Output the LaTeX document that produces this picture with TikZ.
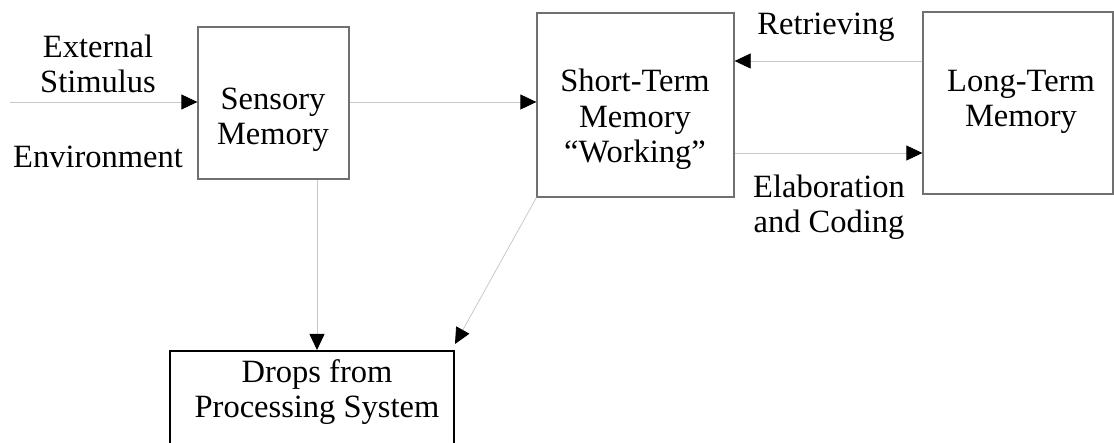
\documentclass[tikz,border=0pt]{standalone}
\usepackage{fontspec}
\setmainfont{Liberation Serif}
\usetikzlibrary{arrows.meta}

\definecolor{boxgray}{RGB}{112,112,112}
\definecolor{linegray}{RGB}{200,200,200}

\begin{document}
\begin{tikzpicture}[x=1pt, y=-1pt]
        \useasboundingbox (0,0) rectangle (1114,443);
        % the four stores
        \begin{scope}[every node/.style={draw=boxgray, line width=1.3pt, inner sep=0}]
            \node[minimum width=151pt, minimum height=152pt] (Sensory) at (273.5,103) {};
            \node[minimum width=197pt, minimum height=184pt] (ShortTerm) at (635.5,105) {};
            \node[minimum width=190pt, minimum height=182pt] (LongTerm) at (1018,103) {};
            \node[draw=black, line width=2pt, minimum width=284pt, minimum height=120pt] (Drops) at (312,411) {};
        \end{scope}
        % texts, placed on the baseline of their last line
        \begin{scope}[every node/.style={inner sep=0, align=center, anchor=base, font=\fontsize{32.5}{35.5}\selectfont}]
            \node (SensoryTxt) at (273,145) {Sensory\\Memory};
            \node (ShortTermTxt) at (635,163) {Short-Term\\Memory\\``Working''};
            \node (LongTermTxt) at (1021,127) {Long-Term\\Memory};
            \node (DropsTxt) at (317,418) {Drops from\\Processing System};
            \node (Stimulus) at (98,93) {External\\Stimulus};
            \node (Environment) at (98,168) {Environment};
            \node (Retrieving) at (826,35) {Retrieving};
            \node (Elaboration) at (829,233) {Elaboration\\and Coding};
        \end{scope}
        % connectors
        \coordinate (Input) at (10,102);
        \coordinate (DropX) at (317,0);
        \begin{scope}[every path/.style={draw=linegray, line width=0.8pt, -{Triangle[length=16pt,width=15pt,black]}}]
            \path (Input) -- (Input -| Sensory.west);
            \path (Input -| Sensory.east) -- (Input -| ShortTerm.west);
            \path ([yshift=42pt]LongTerm.west) -- ([yshift=42pt]LongTerm.west -| ShortTerm.east);
            \path ([yshift=-50pt]LongTerm.west -| ShortTerm.east) -- ([yshift=-50pt]LongTerm.west);
            \path (Sensory.south -| DropX) -- (Drops.north -| DropX);
            \path (ShortTerm.south west) -- ([yshift=6pt]Drops.north east);
        \end{scope}
    \end{tikzpicture}
\end{document}
